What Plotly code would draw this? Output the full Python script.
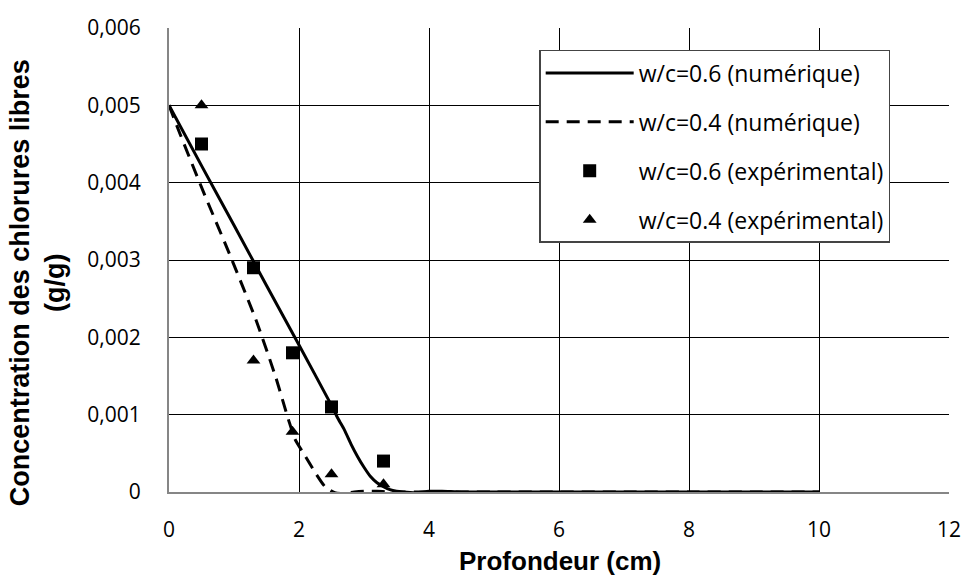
import plotly.graph_objects as go

# Numerical curves
x_num_06 = [0, 0.5, 1.0, 1.5, 2.0, 2.5, 2.6, 2.7, 2.8, 2.9, 3.0, 3.1, 3.2, 3.3, 3.4, 3.5, 3.6, 3.8, 4.0, 4.2, 4.5, 5, 6, 7, 8, 9, 10]
y_num_06 = [0.005, 0.00422, 0.00345, 0.00267, 0.0019, 0.00112, 0.00095, 0.0008, 0.00062, 0.00046, 0.00032, 0.0002,
            0.00012, 0.00007, 0.00003, 0.00001, 0.0, -0.00001, 0.00001, 0.00001, 0.0, 0.0, 0.0, 0.0, 0.0, 0.0, 0.0]

x_num_04 = [0, 0.17, 0.52, 0.93, 1.34, 1.64, 1.84, 1.94, 2.1, 2.25, 2.4, 2.55, 2.7, 2.85, 3.0, 3.2, 3.4, 4, 5, 6, 7, 8, 9, 10]
y_num_04 = [0.005, 0.00463, 0.0039, 0.00308, 0.00222, 0.00149, 0.00093, 0.00068, 0.00046, 0.00025, 0.00007, -0.00001,
            -0.00002, 0.0, 0.00001, 0.00001, 0.0, 0.0, 0.0, 0.0, 0.0, 0.0, 0.0, 0.0]

# Experimental points
x_exp = [0.5, 1.3, 1.9, 2.5, 3.3]
y_exp_06 = [0.0045, 0.0029, 0.0018, 0.0011, 0.0004]
y_exp_04 = [0.005, 0.0017, 0.00078, 0.00023, 0.0001]

names = ["w/c=0.6 (numérique)", "w/c=0.4 (numérique)", "w/c=0.6 (expérimental)", "w/c=0.4 (expérimental)"]

y_ticks = [0, 0.001, 0.002, 0.003, 0.004, 0.005, 0.006]
y_ticktext = ["0", "0,001", "0,002", "0,003", "0,004", "0,005", "0,006"]
x_ticks = [0, 2, 4, 6, 8, 10, 12]

x_title = "Profondeur (cm)"
y_title = "Concentration des chlorures libres<br>(g/g)"

fig = go.Figure()
fig.add_trace(go.Scatter(x=x_num_06, y=y_num_06, mode="lines", name=names[0], legendgroup="a",
                         line=dict(color="black", width=3, shape="spline", smoothing=0.6)))
fig.add_trace(go.Scatter(x=x_num_04, y=y_num_04, mode="lines", name=names[1], legendgroup="b",
                         line=dict(color="black", width=3, dash="13px,8px", shape="spline", smoothing=0.6)))
fig.add_trace(go.Scatter(x=x_exp, y=y_exp_06, mode="markers", name=names[2], legendgroup="c",
                         marker=dict(symbol="square", color="black", size=13)))
fig.add_trace(go.Scatter(x=x_exp, y=y_exp_04, mode="markers", name=names[3], legendgroup="d",
                         marker=dict(symbol="triangle-up", color="black", size=12)))

fig.update_layout(
    width=973, height=577,
    margin=dict(l=169, r=16, t=28, b=85),
    paper_bgcolor="white", plot_bgcolor="white",
    font=dict(family="Open Sans", size=21, color="black"),
    showlegend=True,
    legend=dict(x=0.4746, y=0.9526, xanchor="left", yanchor="top",
                bgcolor="white", bordercolor="#444444", borderwidth=1.5,
                font=dict(family="Open Sans", size=23, color="black"),
                tracegroupgap=16, itemwidth=88, entrywidth=370, entrywidthmode="pixels"),
    xaxis=dict(range=[0, 12], tickvals=x_ticks, showgrid=True, gridcolor="black", gridwidth=1,
               showline=True, linecolor="#868686", linewidth=2, zeroline=False, layer="below traces",
               ticks="", ticklabelstandoff=18, tickfont=dict(family="Open Sans", size=21)),
    yaxis=dict(range=[0, 0.006], tickvals=y_ticks, ticktext=y_ticktext, showgrid=True, gridcolor="black",
               gridwidth=1, showline=True, linecolor="#868686", linewidth=2, zeroline=False, layer="below traces",
               ticks="", ticklabelstandoff=22, tickfont=dict(family="Open Sans", size=21)),
    annotations=[
        dict(text="<b>" + x_title + "</b>", xref="paper", yref="paper", x=(564 - 169) / 788, y=-(561 - 492) / 464,
             xanchor="center", yanchor="middle", showarrow=False,
             font=dict(family="Liberation Sans", size=26, color="black")),
        dict(text="<b>" + y_title + "</b>", xref="paper", yref="paper", x=(36 - 169) / 788, y=(492 - 283) / 464,
             xanchor="center", yanchor="middle", showarrow=False, textangle=-90,
             font=dict(family="Liberation Sans", size=27, color="black")),
    ],
)

fig.write_html("out.html")
